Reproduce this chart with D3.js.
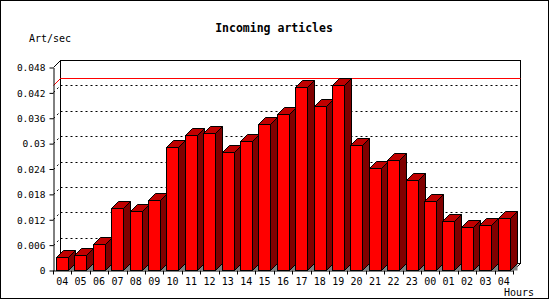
<!DOCTYPE html>
<html>
<head>
<meta charset="utf-8">
<script src="https://cdn.jsdelivr.net/npm/d3@7"></script>
<style>
  body { margin: 0; background: #fff; }
  text { font-family: "DejaVu Sans Mono", monospace; fill: #000; }
</style>
</head>
<body>
<svg id="chart" width="550" height="300"></svg>
<script>
// hourly buckets, first and last are both 04
const hours = ['04','05','06','07','08','09','10','11','12','13','14','15','16',
               '17','18','19','20','21','22','23','00','01','02','03','04']
const artPerSec = [0.0030, 0.0035, 0.0061, 0.0146, 0.0139, 0.0165, 0.0290, 0.0320, 0.0324,
                   0.0279, 0.0305, 0.0345, 0.0368, 0.0432, 0.0387, 0.0437, 0.0295, 0.0241,
                   0.0260, 0.0212, 0.0162, 0.0115, 0.0101, 0.0106, 0.0124]
const yTicks = [0, 0.006, 0.012, 0.018, 0.024, 0.03, 0.036, 0.042, 0.048]
const yTickLabels = ['0', '0.006', '0.012', '0.018', '0.024', '0.03', '0.036', '0.042', '0.048']
const maxRate = 0.0438

const svg = d3.select('#chart')
const depth = 7
const plotL = 53, plotR = 513, plotT = 67, plotB = 270

const x = d3.scaleBand().domain(d3.range(hours.length)).range([plotL, plotR]).padding(0)
const y = d3.scaleLinear().domain([0, 0.048]).range([plotB, plotT])

// outer frame
svg.append('rect')
    .attr('x', 0.5).attr('y', 0.5).attr('width', 548).attr('height', 298)
    .attr('fill', '#fff').attr('stroke', '#000')

// back wall of the 3d plot
svg.append('rect')
    .attr('x', plotL + depth + 0.5).attr('y', plotT - depth + 0.5)
    .attr('width', plotR - plotL).attr('height', plotB - plotT)
    .attr('fill', '#fff').attr('stroke', '#000')

// dotted grid on the wall, with the slanted piece back from the axis
const grid = svg.append('g').attr('stroke', '#000').attr('stroke-dasharray', '2,3')
yTicks.slice(1, -1).forEach(t => {
  const yy = Math.round(y(t)) + 0.5
  grid.append('line')
      .attr('x1', plotL + depth + 0.5).attr('x2', plotR + depth + 0.5)
      .attr('y1', yy - depth).attr('y2', yy - depth)
  grid.append('line')
      .attr('x1', plotL + 0.5).attr('x2', plotL + depth + 0.5)
      .attr('y1', yy).attr('y2', yy - depth)
})

// frame edges coming forward
const edges = [[plotL, plotT, plotL + depth, plotT - depth], [plotR, plotB, plotR + depth, plotB - depth]]
edges.forEach(e => {
  svg.append('line')
      .attr('x1', e[0] + 0.5).attr('y1', e[1] + 0.5)
      .attr('x2', e[2] + 0.5).attr('y2', e[3] + 0.5)
      .attr('stroke', '#000')
})

// max line
const ym = Math.round(y(maxRate)) + 0.5
svg.append('polyline')
    .attr('points', [[plotL + 0.5, ym], [plotL + depth + 0.5, ym - depth], [plotR + depth + 0.5, ym - depth]].join(' '))
    .attr('fill', 'none').attr('stroke', '#f00')

// y axis
const yAxis = svg.append('g')
    .attr('transform', 'translate(' + (plotL + 0.5) + ',0.5)')
    .call(d3.axisLeft(y).tickValues(yTicks).tickSize(4).tickSizeOuter(0)
        .tickFormat((d, i) => yTickLabels[i]))
yAxis.selectAll('text').attr('font-size', 9.5).attr('x', -8).attr('dy', '0.35em')
    .style('font-family', '"DejaVu Sans Mono", monospace')
yAxis.select('.domain').attr('stroke', '#000')
yAxis.selectAll('.tick line').attr('stroke', '#000')

// x axis: labels centred, ticks on the band edges
const xAxis = svg.append('g')
    .attr('transform', 'translate(0,' + (plotB + 0.5) + ')')
    .call(d3.axisBottom(x).tickSize(0).tickSizeOuter(0).tickFormat(i => hours[i]))
xAxis.select('.domain').attr('stroke', '#000')
xAxis.selectAll('text').attr('font-size', 10).attr('y', 7).attr('dy', '0.71em')
    .style('font-family', '"DejaVu Sans Mono", monospace')
d3.range(hours.length + 1).forEach(i => {
  const xx = Math.round(i < hours.length ? x(i) : plotR) + 0.5
  xAxis.append('line').attr('x1', xx).attr('x2', xx).attr('y1', 0).attr('y2', 4).attr('stroke', '#000')
})

// 3d bars
const barW = 12
const bars = svg.append('g').attr('stroke', '#000').attr('stroke-linejoin', 'miter')
artPerSec.forEach((v, i) => {
  const x0 = Math.round(x(i) + 3) + 0.5
  const y0 = Math.round(y(v)) + 0.5
  const yb = plotB + 0.5
  const g = bars.append('g')
  g.append('polygon')
      .attr('points', [[x0 + barW, yb], [x0 + barW + depth, yb - depth], [x0 + barW + depth, yb]].join(' '))
      .attr('fill', '#808080').attr('stroke', 'none')
  g.append('rect')
      .attr('x', x0).attr('y', y0).attr('width', barW).attr('height', yb - y0)
      .attr('fill', '#ff0000')
  g.append('polygon')
      .attr('points', [[x0, y0], [x0 + depth, y0 - depth], [x0 + barW + depth, y0 - depth], [x0 + barW, y0]].join(' '))
      .attr('fill', '#c00000')
  g.append('polygon')
      .attr('points', [[x0 + barW, y0], [x0 + barW + depth, y0 - depth], [x0 + barW + depth, yb - depth], [x0 + barW, yb]].join(' '))
      .attr('fill', '#800000')
})

// titles
svg.append('text')
    .attr('x', 274).attr('y', 32).attr('text-anchor', 'middle')
    .attr('font-size', 11.5).attr('font-weight', 'bold')
    .text('Incoming articles')
svg.append('text')
    .attr('x', 29).attr('y', 42).attr('font-size', 10)
    .text('Art/sec')
svg.append('text')
    .attr('x', 534).attr('y', 296).attr('text-anchor', 'end').attr('font-size', 10)
    .text('Hours')
</script>
</body>
</html>
